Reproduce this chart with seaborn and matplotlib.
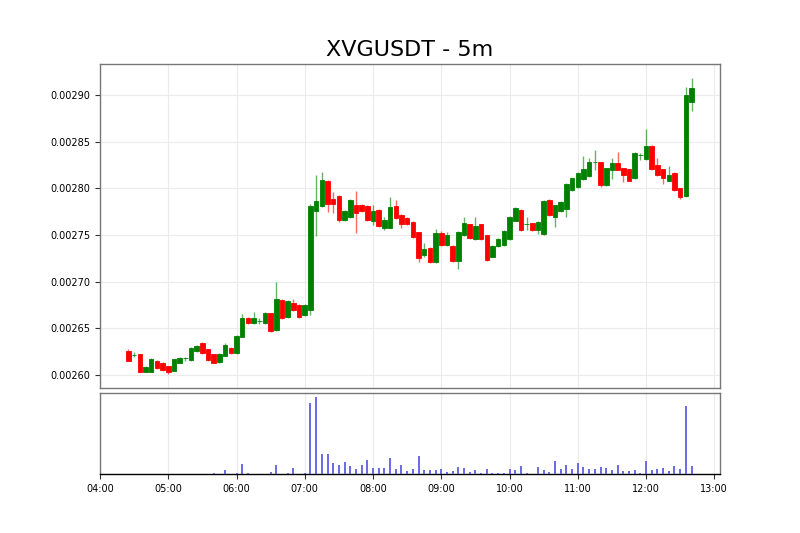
import matplotlib
matplotlib.use('Agg')
import matplotlib.pyplot as plt
import matplotlib.dates as mdates
from matplotlib.ticker import MultipleLocator, FormatStrFormatter
import seaborn as sns
import pandas as pd
import numpy as np

# 5m candles, first one at 04:25
start_time = '2024-01-01 04:25'

# prices in units of 1e-6 USDT
opens = [2625.7, 2621.5, 2622.5, 2603.5, 2603.5, 2615.3, 2613.2, 2609.6, 2604.3, 2613.2,
         2618.0, 2616.0, 2625.7, 2634.6, 2627.5, 2622.5, 2614.2, 2620.3, 2629.2, 2623.2,
         2641.0, 2661.3, 2655.3, 2658.0, 2656.0, 2666.0, 2648.2, 2680.3, 2662.4, 2677.4,
         2675.0, 2664.2, 2669.6, 2775.6, 2781.3, 2807.7, 2788.0, 2792.0, 2766.0, 2769.5,
         2782.0, 2782.0, 2781.0, 2764.9, 2776.7, 2757.7, 2757.7, 2781.3, 2771.3, 2768.4,
         2764.1, 2752.8, 2728.5, 2736.3, 2721.3, 2751.7, 2739.2, 2738.1, 2722.0, 2749.9,
         2761.3, 2745.3, 2761.3, 2749.9, 2726.7, 2738.5, 2738.9, 2745.3, 2765.2, 2776.7,
         2761.7, 2762.4, 2755.3, 2751.0, 2787.4, 2769.5, 2775.9, 2777.4, 2798.1, 2801.6,
         2809.5, 2813.1, 2828.0, 2827.7, 2803.4, 2820.0, 2827.3, 2821.3, 2820.2, 2810.6,
         2836.0, 2830.9, 2845.5, 2824.8, 2820.2, 2808.1, 2816.6, 2799.9, 2791.7, 2892.6]
highs = [2627.5, 2625.0, 2623.0, 2610.0, 2618.0, 2616.0, 2614.0, 2610.0, 2617.5, 2619.5,
         2619.6, 2630.0, 2632.1, 2635.7, 2628.0, 2623.0, 2623.5, 2634.0, 2630.0, 2643.0,
         2665.3, 2662.5, 2667.8, 2661.0, 2668.0, 2667.0, 2699.3, 2681.0, 2680.0, 2681.0,
         2676.0, 2676.0, 2783.0, 2814.1, 2817.7, 2809.0, 2796.0, 2793.0, 2777.0, 2788.5,
         2797.0, 2783.0, 2782.0, 2782.0, 2778.0, 2769.5, 2790.9, 2787.4, 2772.0, 2769.0,
         2765.0, 2753.5, 2741.0, 2737.0, 2756.0, 2754.2, 2753.4, 2739.0, 2754.0, 2768.8,
         2762.0, 2768.8, 2762.0, 2750.5, 2739.5, 2746.5, 2755.0, 2770.0, 2780.0, 2777.5,
         2769.5, 2763.0, 2765.0, 2787.5, 2788.0, 2782.5, 2786.5, 2805.5, 2811.5, 2817.0,
         2834.5, 2832.0, 2840.9, 2828.5, 2822.0, 2832.0, 2839.1, 2822.0, 2821.0, 2839.0,
         2837.7, 2863.4, 2846.5, 2832.0, 2821.0, 2824.1, 2817.5, 2800.5, 2908.7, 2917.6]
lows = [2615.0, 2619.0, 2603.0, 2603.0, 2603.0, 2606.5, 2604.8, 2601.0, 2604.0, 2612.5,
        2615.3, 2615.5, 2625.0, 2622.5, 2615.5, 2612.5, 2613.5, 2620.0, 2622.5, 2622.5,
        2640.5, 2654.5, 2654.5, 2654.6, 2655.0, 2646.0, 2647.5, 2660.5, 2661.5, 2669.0,
        2661.5, 2663.5, 2664.2, 2749.1, 2780.0, 2775.0, 2773.0, 2764.0, 2765.0, 2768.0,
        2752.0, 2775.0, 2765.0, 2760.6, 2759.0, 2755.3, 2757.0, 2767.0, 2757.0, 2760.5,
        2747.0, 2721.3, 2726.7, 2720.5, 2720.5, 2738.5, 2738.5, 2721.0, 2713.5, 2749.0,
        2746.0, 2744.5, 2744.5, 2722.0, 2726.0, 2737.5, 2738.0, 2744.5, 2764.5, 2754.5,
        2755.3, 2754.5, 2750.6, 2750.5, 2770.5, 2758.5, 2775.0, 2769.5, 2797.0, 2800.5,
        2808.5, 2812.0, 2819.5, 2801.6, 2802.5, 2809.5, 2819.0, 2807.0, 2807.5, 2810.0,
        2830.2, 2830.0, 2819.5, 2813.5, 2804.5, 2807.5, 2797.5, 2788.1, 2790.3, 2883.0]
closes = [2615.3, 2621.5, 2603.5, 2609.0, 2617.0, 2607.2, 2605.4, 2603.5, 2616.8, 2618.5,
          2618.0, 2629.2, 2631.0, 2623.2, 2616.0, 2613.2, 2622.5, 2632.1, 2623.2, 2641.8,
          2660.7, 2655.3, 2661.3, 2658.0, 2666.7, 2647.1, 2681.4, 2661.3, 2679.2, 2669.6,
          2662.4, 2675.0, 2781.3, 2786.3, 2808.8, 2782.7, 2782.7, 2766.0, 2775.6, 2787.4,
          2773.1, 2775.6, 2766.0, 2775.6, 2759.9, 2766.0, 2780.2, 2767.8, 2761.3, 2761.3,
          2748.1, 2725.0, 2734.6, 2721.3, 2751.7, 2739.2, 2749.9, 2722.0, 2752.8, 2763.1,
          2747.0, 2759.9, 2745.3, 2723.1, 2738.5, 2745.6, 2753.8, 2768.8, 2779.1, 2755.3,
          2761.7, 2755.3, 2764.1, 2786.6, 2771.3, 2781.7, 2785.5, 2804.5, 2810.6, 2816.0,
          2820.2, 2827.7, 2828.0, 2803.4, 2821.3, 2827.3, 2819.5, 2814.1, 2808.1, 2838.0,
          2836.0, 2845.2, 2820.2, 2814.1, 2810.6, 2814.1, 2798.1, 2790.9, 2899.8, 2907.6]
# volume (thousands)
volumes = [0.3, 0.2, 0.7, 0.5, 0.5, 0.8, 0.4, 0.3, 0.6, 0.3,
           0.2, 0.5, 0.6, 0.8, 0.7, 1.2, 0.4, 4.0, 0.3, 1.7,
           10.0, 1.0, 0.8, 0.8, 0.8, 2.0, 9.0, 0.8, 1.5, 6.3,
           0.5, 1.0, 70.7, 76.7, 20.0, 20.0, 11.3, 9.0, 12.7, 8.3,
           5.7, 9.0, 14.0, 6.0, 6.0, 6.0, 16.0, 5.3, 9.7, 3.0,
           5.7, 18.7, 4.0, 4.7, 4.7, 5.3, 2.3, 3.7, 7.7, 6.0,
           2.0, 4.7, 1.7, 5.0, 1.7, 1.3, 1.7, 5.0, 4.0, 8.7,
           1.7, 0.7, 7.3, 4.7, 2.7, 13.0, 5.0, 9.0, 5.7, 11.7,
           7.0, 5.7, 5.7, 7.7, 6.3, 4.0, 9.7, 3.7, 3.3, 4.0,
           1.7, 13.0, 4.7, 5.7, 6.0, 3.7, 8.3, 5.3, 68.3, 8.0]

df = pd.DataFrame({'open': opens, 'high': highs, 'low': lows, 'close': closes, 'volume': volumes})
for c in ['open', 'high', 'low', 'close']:
    df[c] = df[c] * 1e-6
df['time'] = pd.date_range(start_time, periods=len(df), freq='5min')
df['x'] = mdates.date2num(df['time'])

sns.set_style('whitegrid', {'axes.edgecolor': '#777777', 'grid.color': '#ebebeb',
                            'xtick.bottom': True, 'ytick.left': True,
                            'text.color': 'black', 'xtick.color': 'black',
                            'ytick.color': 'black', 'axes.labelcolor': 'black'})
plt.rcParams['font.family'] = ['DejaVu Sans']

fig = plt.figure(figsize=(8, 5.33), dpi=100)
gs = fig.add_gridspec(2, 1, height_ratios=[4, 1], hspace=0.025,
                      left=0.125, right=0.9, top=0.88, bottom=0.11)
ax1 = fig.add_subplot(gs[0])
ax2 = fig.add_subplot(gs[1], sharex=ax1)

step = 5 / 1440
colors = np.where(df['close'] >= df['open'], 'green', 'red')

# candles
ax1.vlines(df['x'], df['low'], df['high'], colors=colors, linewidth=1, alpha=0.6, zorder=2)
ax1.bar(df['x'], df['close'] - df['open'], bottom=df['open'], width=step * 0.8,
        color=colors, edgecolor=colors, linewidth=0.6, zorder=3)

# volume
ax2.vlines(df['x'], 0, df['volume'], colors='#5050e0', linewidth=1.4, alpha=0.85, zorder=3)

ax1.set_title('XVGUSDT - 5m', fontsize=16, color='black')
ax1.set_ylim(0.002586, 0.002933)
ax1.yaxis.set_major_locator(MultipleLocator(0.00005))
ax1.yaxis.set_major_formatter(FormatStrFormatter('%.5f'))
ax1.tick_params(axis='y', labelsize=7, length=3.5, width=0.8, color='#333333')
ax1.tick_params(axis='x', labelbottom=False, length=0)

ax2.set_ylim(0, max(volumes) * 1.05)
ax2.set_yticks([])
ax2.set_xlim(mdates.date2num(pd.Timestamp('2024-01-01 04:00')),
             mdates.date2num(pd.Timestamp('2024-01-01 13:05')))
ax2.xaxis.set_major_locator(mdates.HourLocator())
ax2.xaxis.set_major_formatter(mdates.DateFormatter('%H:%M'))
ax2.tick_params(axis='x', labelsize=7, length=3.5, width=0.8, color='#333333')
ax2.spines['bottom'].set_color('black')

for ax in (ax1, ax2):
    for s in ax.spines.values():
        s.set_linewidth(1)

fig.savefig('out.png', dpi=100)
